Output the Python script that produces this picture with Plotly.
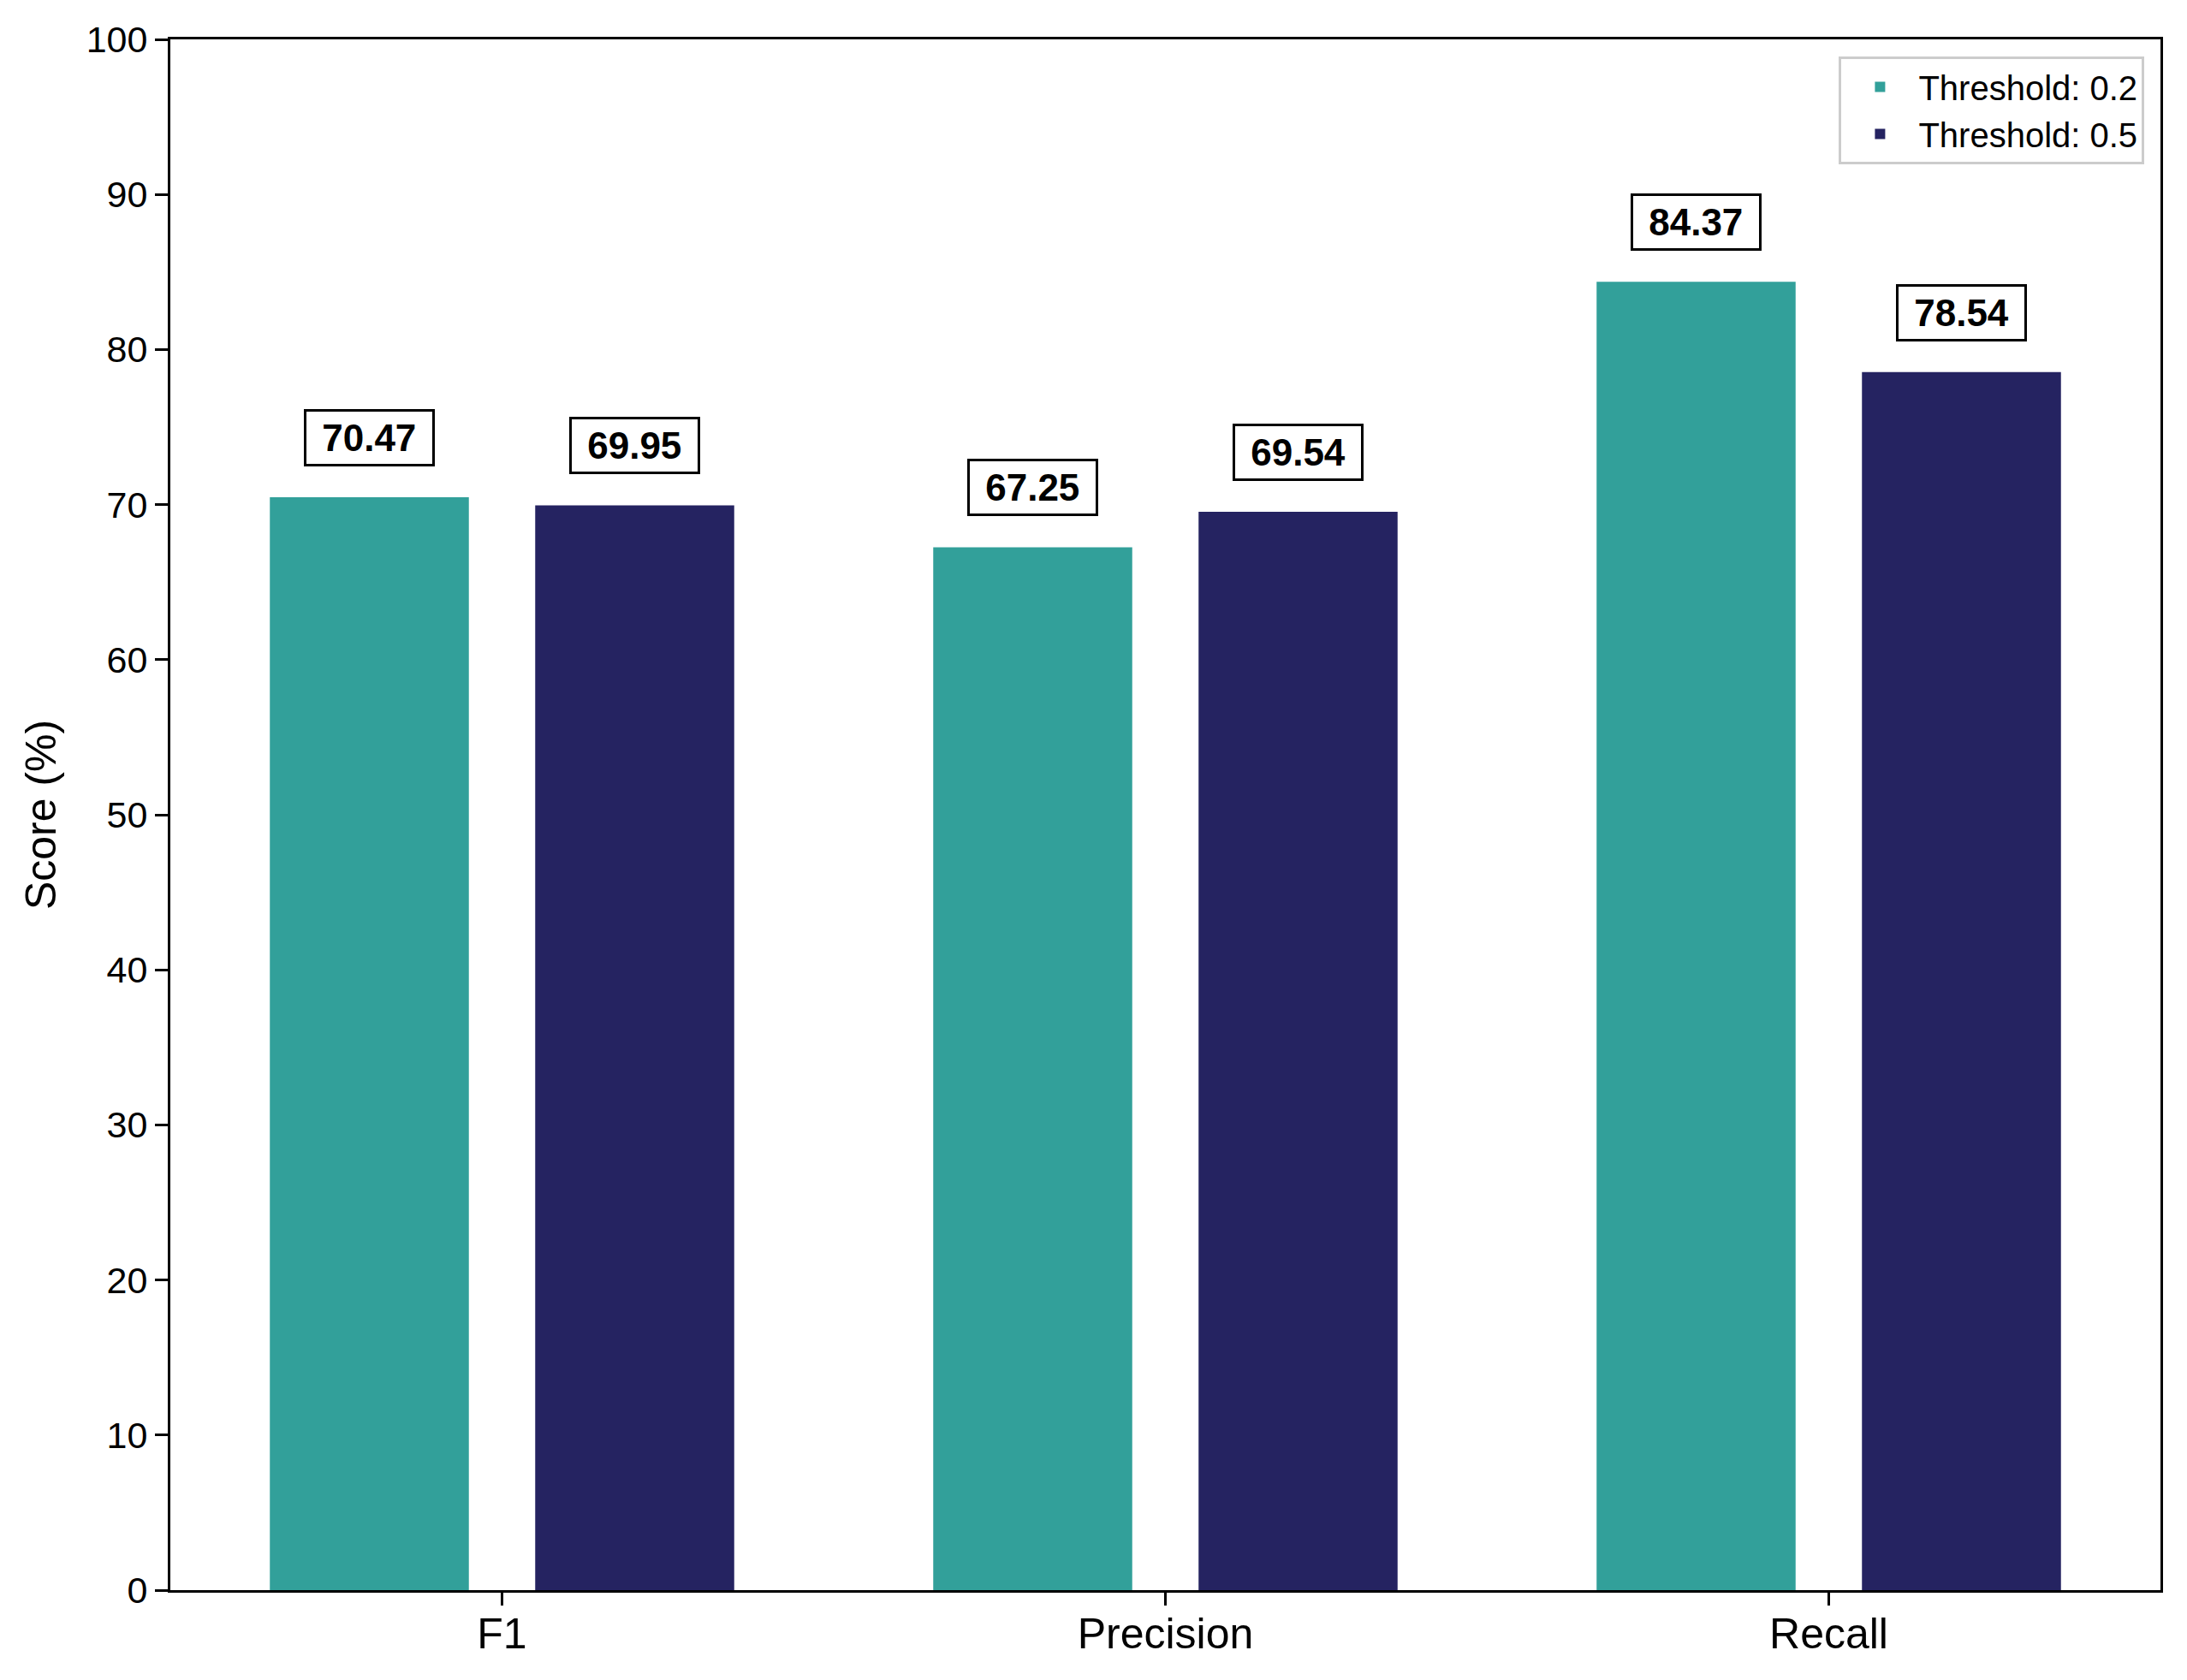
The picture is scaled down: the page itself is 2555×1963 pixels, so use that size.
import plotly.graph_objects as go

# scores per metric for the two thresholds
metrics = ["F1", "Precision", "Recall"]
thresh_02 = [70.47, 67.25, 84.37]
thresh_05 = [69.95, 69.54, 78.54]

series_names = ["Threshold: 0.2", "Threshold: 0.5"]
colors = ["#32a09a", "#252361"]
offsets = [-0.35, 0.05]
bar_width = 0.3

font_family = "Arial, Liberation Sans, sans-serif"

fig = go.Figure()

for name, vals, color, off in zip(series_names, [thresh_02, thresh_05], colors, offsets):
    fig.add_trace(go.Bar(
        x=metrics,
        y=vals,
        name=name,
        marker=dict(color=color, line=dict(width=0)),
        width=bar_width,
        offset=off,
    ))

    # boxed value labels above each bar
    for i, v in enumerate(vals):
        fig.add_annotation(
            x=i + off + bar_width / 2,
            y=v + 2,
            xref="x",
            yref="y",
            text=f"&nbsp;<b>{v:.2f}</b>&nbsp;",
            showarrow=False,
            yanchor="bottom",
            font=dict(family=font_family, size=44, color="black"),
            bgcolor="white",
            bordercolor="black",
            borderwidth=3,
            borderpad=6,
        )

# page body adds 8px offset, so margins are shifted accordingly
fig.update_layout(
    width=2555,
    height=1963,
    barmode="overlay",
    plot_bgcolor="white",
    paper_bgcolor="white",
    margin=dict(l=191, r=39, t=38, b=113),
    font=dict(family=font_family, color="black"),
    legend=dict(
        x=0.992,
        y=0.989,
        xanchor="right",
        yanchor="top",
        bgcolor="white",
        bordercolor="#cccccc",
        borderwidth=3,
        itemwidth=80,
        font=dict(size=40),
    ),
)

fig.update_xaxes(
    range=[-0.5, 2.5],
    showline=True,
    linecolor="black",
    linewidth=3,
    mirror=True,
    ticks="outside",
    ticklen=15,
    tickwidth=3,
    tickcolor="black",
    tickfont=dict(size=50),
    ticklabelstandoff=-10,
    showgrid=False,
)

fig.update_yaxes(
    range=[0, 100],
    dtick=10,
    showline=True,
    linecolor="black",
    linewidth=3,
    mirror=True,
    ticks="outside",
    ticklen=15,
    tickwidth=3,
    tickcolor="black",
    tickfont=dict(size=43),
    showgrid=False,
    zeroline=False,
    title=dict(text="Score (%)", font=dict(size=50), standoff=20),
)

fig.write_html("out.html")
